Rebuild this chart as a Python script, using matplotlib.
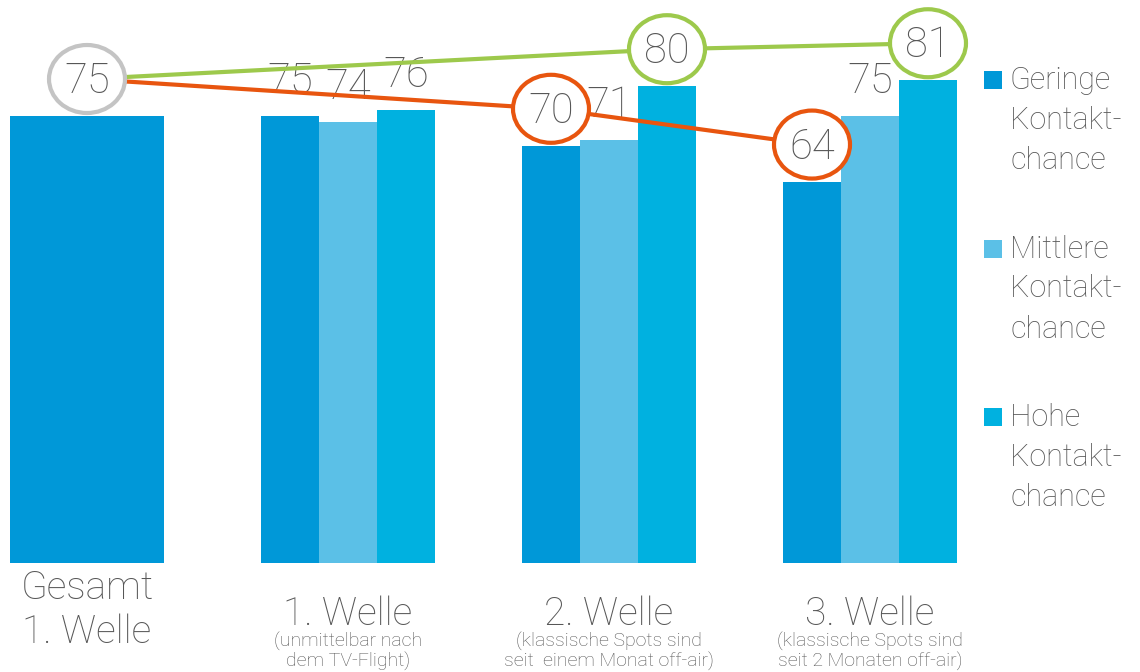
import matplotlib
matplotlib.use("Agg")
import matplotlib.pyplot as plt
from matplotlib.patches import Ellipse, Rectangle
from matplotlib import transforms as mtrans

# ---------------- data ----------------
categories = ["Gesamt\n1. Welle", "1. Welle", "2. Welle", "3. Welle"]
subtitles = ["",
             "(unmittelbar nach\ndem TV-Flight)",
             "(klassische Spots sind\nseit  einem Monat off-air)",
             "(klassische Spots sind\nseit 2 Monaten off-air)"]
gesamt = [75]
series_names = ["Geringe\nKontakt-\nchance", "Mittlere\nKontakt-\nchance", "Hohe\nKontakt-\nchance"]
geringe = [75, 70, 64]
mittlere = [74, 71, 75]
hohe = [76, 80, 81]

# ---------------- style ----------------
colors = ["#0098d8", "#5bc0e7", "#00b1e0"]
gesamt_color = "#0098d8"
orange = "#e8550f"
green = "#9dc94c"
gray_circle = "#c4c4c4"
text_color = "#575757"
plt.rcParams['font.family'] = ['Roboto', 'DejaVu Sans']
plt.rcParams['font.weight'] = 'light'

W, H = 1140, 672
fig = plt.figure(figsize=(W / 100, H / 100), dpi=100)
base_px = 563
ax = fig.add_axes([0, (H - base_px) / H, 970 / W, base_px / H])
pitch = 261.0
ax.set_xlim(-87 / pitch, (970 - 87) / pitch)
ax.set_ylim(0, base_px / 5.96)
ax.axis('off')

gesamt_w = 154 / pitch
bw = 58 / pitch
wave_x = [1, 2, 3]

ax.bar([0], gesamt, width=gesamt_w, color=gesamt_color, zorder=1)
series = [geringe, mittlere, hohe]
bar_x = []
for k, vals in enumerate(series):
    xs = [w + (k - 1) * bw for w in wave_x]
    bar_x.append(xs)
    ax.bar(xs, vals, width=bw, color=colors[k], zorder=1)

def off(dy):
    return mtrans.offset_copy(ax.transData, fig=fig, x=0, y=dy, units='dots')

LABEL_FS = 30
# plain value labels
plain = [(bar_x[0][0], geringe[0])] + [(bar_x[1][i], mittlere[i]) for i in range(3)] + [(bar_x[2][0], hohe[0])]
for x, v in plain:
    ax.text(x, v, f"{v}", transform=off(23), ha='center', va='baseline',
            fontsize=LABEL_FS, color=text_color, zorder=3, clip_on=False)

# connecting lines (offset above bars)
orange_x = [0, bar_x[0][1], bar_x[0][2]]
orange_y = [gesamt[0], geringe[1], geringe[2]]
green_x = [0, bar_x[2][1], bar_x[2][2]]
green_y = [gesamt[0], hohe[1], hohe[2]]
ax.plot(orange_x, orange_y, color=orange, lw=3, transform=off(37), zorder=4, clip_on=False,
        solid_capstyle='butt')
ax.plot(green_x, green_y, color=green, lw=3, transform=off(37), zorder=4, clip_on=False,
        solid_capstyle='butt')

# circled labels
circled = [(0, gesamt[0], gray_circle)] + \
          [(orange_x[i], orange_y[i], orange) for i in (1, 2)] + \
          [(green_x[i], green_y[i], green) for i in (1, 2)]
for x, v, c in circled:
    tr = mtrans.Affine2D().translate(0, 37) + mtrans.ScaledTranslation(x, v, ax.transData)
    e = Ellipse((0, 0), 76, 68, transform=tr, facecolor='white', edgecolor=c, lw=3, zorder=5)
    e.set_clip_on(False)
    ax.add_artist(e)
    ax.text(x, v, f"{v}", transform=off(23), ha='center', va='baseline',
            fontsize=LABEL_FS, color=text_color, zorder=6, clip_on=False)

# category labels
for i, (cat, sub) in enumerate(zip(categories, subtitles)):
    x = i
    if sub:
        ax.text(x, 0, cat, transform=off(-62), ha='center', va='baseline', fontsize=28,
                color=text_color, clip_on=False)
        for j, line in enumerate(sub.split("\n")):
            ax.text(x, 0, line, transform=off(-84 - 20 * j), ha='center', va='baseline',
                    fontsize=14, color=text_color, clip_on=False)
    else:
        for j, line in enumerate(cat.split("\n")):
            ax.text(x, 0, line, transform=off(-36 - 44 * j), ha='center', va='baseline',
                    fontsize=28, color=text_color, clip_on=False)

# legend
for i, name in enumerate(series_names):
    b = 89 + 168.5 * i
    fig.add_artist(Rectangle((984 / W, 1 - b / H), 18 / W, 18 / H, transform=fig.transFigure,
                             facecolor=colors[i], edgecolor='none'))
    for j, line in enumerate(name.split("\n")):
        fig.text(1010 / W, 1 - (b + 40 * j) / H, line, ha='left', va='baseline',
                 fontsize=22, color=text_color)

fig.savefig("out.png", dpi=100)
